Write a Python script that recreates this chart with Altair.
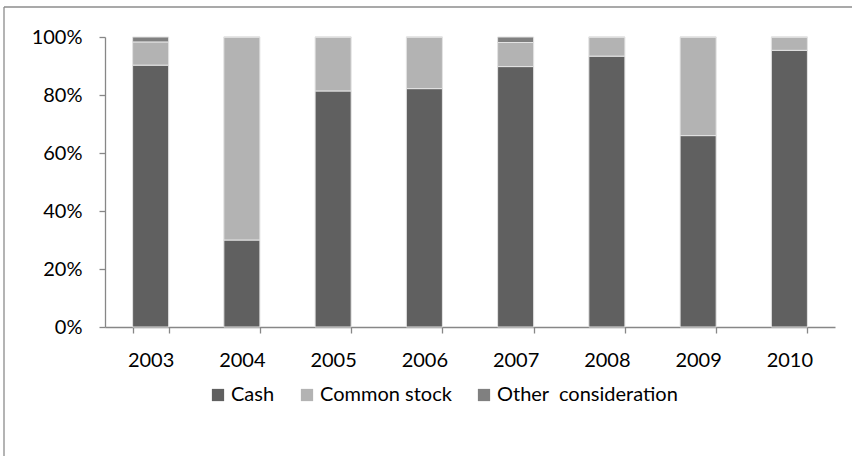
import altair as alt
import pandas as pd

years = ["2003", "2004", "2005", "2006", "2007", "2008", "2009", "2010"]
series = ["Cash", "Common stock", "Other\u00a0 consideration"]
cash = [90.3, 30.0, 81.4, 82.2, 89.8, 93.4, 66.0, 95.4]
common_stock = [8.0, 70.0, 18.6, 17.8, 8.3, 6.6, 34.0, 4.6]
other = [1.7, 0.0, 0.0, 0.0, 1.9, 0.0, 0.0, 0.0]
colors = ["#606060", "#b3b3b3", "#808080"]

rows = []
for i, y in enumerate(years):
    for k, (name, vals) in enumerate(zip(series, [cash, common_stock, other])):
        rows.append({"year": y, "type": name, "share": vals[i], "order": k})
df = pd.DataFrame(rows)

FONT = "Lato"
FS = 20
W, H = 730, 290

x_enc = alt.X(
    "year:N",
    sort=years,
    title=None,
    scale=alt.Scale(paddingInner=0.605, paddingOuter=0.3025),
    axis=alt.Axis(
        tickBand="extent",
        labelAngle=0,
        labelFontSize=FS,
        labelFont=FONT,
        labelColor="#000000",
        labelPadding=17,
        tickSize=6,
        tickColor="#878787",
        domainColor="#878787",
        domainWidth=1.3,
        tickWidth=1.3,
    ),
)

bars = (
    alt.Chart(df)
    .mark_bar(stroke="#e3e3e3", strokeWidth=1)
    .encode(
        x=x_enc,
        y=alt.Y(
            "share:Q",
            stack="normalize",
            title=None,
            scale=alt.Scale(domain=[0, 1], nice=False),
            axis=alt.Axis(
                format=".0%",
                values=[0, 0.2, 0.4, 0.6, 0.8, 1.0],
                grid=False,
                labelFontSize=FS,
                labelFont=FONT,
                labelColor="#000000",
                labelPadding=17,
                tickSize=6,
                tickColor="#878787",
                domainColor="#878787",
                domainWidth=1.3,
                tickWidth=1.3,
            ),
        ),
        color=alt.Color(
            "type:N",
            sort=series,
            scale=alt.Scale(domain=series, range=colors),
            legend=alt.Legend(
                title=None,
                orient="none",
                direction="horizontal",
                legendX=103,
                legendY=58 + H,
                symbolType="square",
                symbolSize=150,
                symbolStrokeWidth=0,
                labelFont=FONT,
                labelFontSize=FS,
                labelColor="#000000",
                labelOffset=3,
                columnPadding=22,
                labelLimit=300,
            ),
        ),
        order=alt.Order("order:Q"),
    )
)

# chart frame: left and top edges of the surrounding box
frame_left = alt.Chart(pd.DataFrame({"k": [0]})).mark_rule(
    color="#8c8c8c", strokeWidth=1.3
).encode(x=alt.value(-101), y=alt.value(-30), y2=alt.value(H + 140))
frame_top = alt.Chart(pd.DataFrame({"k": [0]})).mark_rule(
    color="#8c8c8c", strokeWidth=1.3
).encode(x=alt.value(-101), x2=alt.value(W + 40), y=alt.value(-30))

chart = (
    alt.layer(frame_left, frame_top, bars)
    .properties(
        width=W,
        height=H,
        autosize=alt.AutoSizeParams(type="none"),
        padding={"left": 105, "top": 37, "right": 852 - 105 - W, "bottom": 456 - 37 - H},
        background="#ffffff",
    )
    .configure_view(stroke=None)
)

chart.save("out.html", embed_options={"renderer": "svg", "actions": False})
